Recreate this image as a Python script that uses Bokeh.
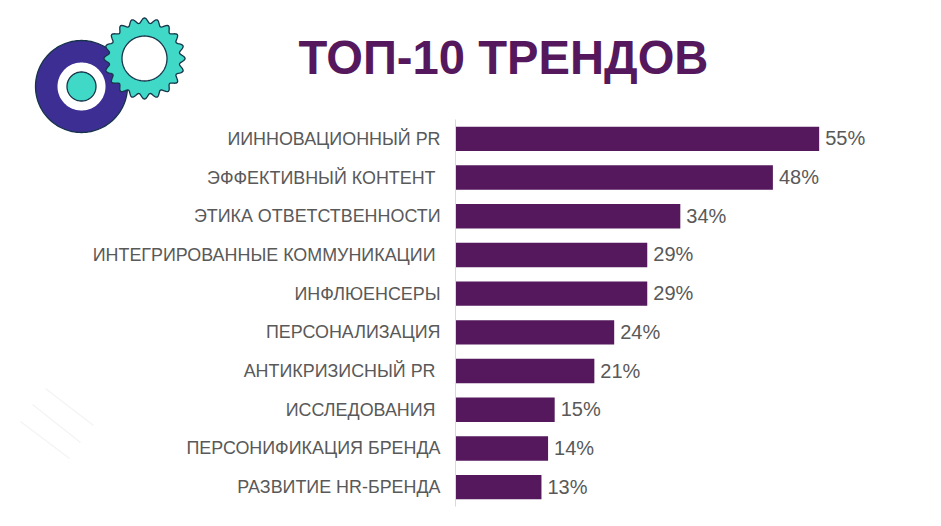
import math
from bokeh.plotting import figure
from bokeh.layouts import column
from bokeh.models import ColumnDataSource, Range1d, FactorRange
from bokeh.core.properties import value
from bokeh.embed import file_html
from bokeh.resources import INLINE

categories = ["ИИННОВАЦИОННЫЙ PR", "ЭФФЕКТИВНЫЙ КОНТЕНТ ", "ЭТИКА ОТВЕТСТВЕННОСТИ",
              "ИНТЕГРИРОВАННЫЕ КОММУНИКАЦИИ ", "ИНФЛЮЕНСЕРЫ", "ПЕРСОНАЛИЗАЦИЯ",
              "АНТИКРИЗИСНЫЙ PR ", "ИССЛЕДОВАНИЯ ", "ПЕРСОНИФИКАЦИЯ БРЕНДА", "РАЗВИТИЕ HR-БРЕНДА"]
values = [55, 48, 34, 29, 29, 24, 21, 15, 14, 13]
value_labels = [f"{v}%" for v in values]
title_text = "ТОП-10 ТРЕНДОВ"

W, H = 941, 526


def ring(cx, cy, r, n=120, teeth=0, amp=0.0):
    xs, ys = [], []
    for i in range(n):
        a = 2 * math.pi * i / n
        rr = r + amp * math.cos(teeth * a)
        xs.append(cx + rr * math.cos(a))
        ys.append(cy + rr * math.sin(a))
    return xs, ys


# background layer: illustration and heading, in page-pixel coordinates
bg = figure(width=W, height=H, output_backend="svg", toolbar_location=None,
            x_range=Range1d(0, W), y_range=Range1d(H, 0),
            min_border=0, outline_line_color=None, x_axis_location=None, y_axis_location=None,
            background_fill_color="white", border_fill_color="white",
            margin=(0, 0, -H, 0), frame_align=False)
bg.xgrid.visible = False
bg.ygrid.visible = False

for (x0, y0, x1, y1) in [(45, 388, 93, 425), (32, 404, 80, 442), (20, 421, 69, 458)]:
    bg.line([x0, x1], [y0, y1], line_color="#f4f4f4", line_width=1.5)

OUT = "#17344a"
for (cx, cy, r, col, t, a) in [(81, 86, 46, "#3d2e94", 0, 0), (81, 86, 24, "#ffffff", 0, 0),
                               (81, 86, 14.5, "#40d9c8", 0, 0),
                               (144, 58, 38, "#40d9c8", 20, 2.6), (144, 58, 22.5, "#ffffff", 0, 0)]:
    xs, ys = ring(cx, cy, r, n=240 if t else 120, teeth=t, amp=a)
    bg.patch(xs, ys, fill_color=col, line_color=None if (col == "#ffffff" and cx == 81) else OUT,
             line_width=1.3)

bg.text(x=[503], y=[57], text=[title_text], text_align="center", text_baseline="middle",
        text_font=value("Liberation Sans"), text_font_style="bold", text_font_size="47.2px",
        text_color="#55185d")

# chart layer
p = figure(width=W, height=H, output_backend="svg", toolbar_location=None,
           y_range=FactorRange(factors=categories[::-1], range_padding=0),
           x_range=Range1d(0, 73.5),
           min_border_left=455, min_border_right=0, min_border_top=119, min_border_bottom=20,
           outline_line_color=None, background_fill_color=None, border_fill_color=None,
           frame_align=False)

src = ColumnDataSource(dict(cat=categories, val=values, lab=value_labels))
p.hbar(y="cat", right="val", left=0, height=0.63, source=src, color="#55185d", line_color=None)
p.text(x="val", y="cat", text="lab", source=src, x_offset=6, y_offset=-0.5, text_baseline="middle",
       text_align="left", text_font=value("Liberation Sans"), text_font_size="20px",
       text_color="#595959")

p.xaxis.visible = False
p.xgrid.visible = False
p.ygrid.visible = False
ax = p.yaxis[0]
ax.axis_line_color = "#d9d9d9"
ax.axis_line_width = 1
ax.major_tick_line_color = None
ax.minor_tick_line_color = None
ax.major_label_standoff = 9
ax.major_label_text_font = "Liberation Sans"
ax.major_label_text_font_size = "17.9px"
ax.major_label_text_color = "#595959"

layout = column(bg, p, spacing=0)
open("out.html", "w").write(file_html(layout, INLINE))
